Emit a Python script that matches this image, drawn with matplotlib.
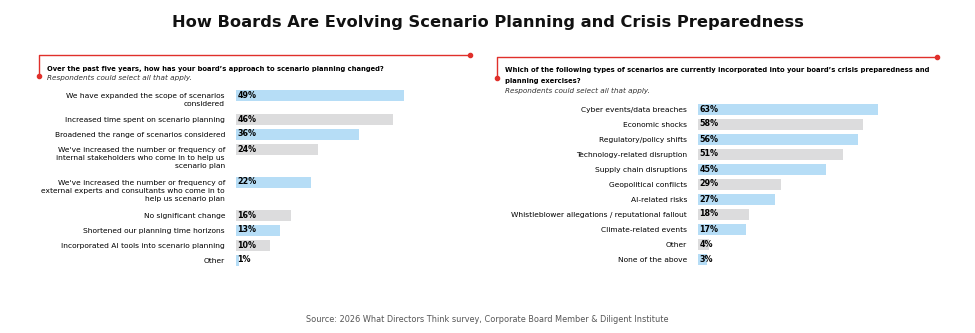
import matplotlib.pyplot as plt
from matplotlib.lines import Line2D

W, H = 975, 333

# survey results, left panel
left_labels = [
    "We have expanded the scope of scenarios\nconsidered",
    "Increased time spent on scenario planning",
    "Broadened the range of scenarios considered",
    "We've increased the number or frequency of\ninternal stakeholders who come in to help us\nscenario plan",
    "We've increased the number or frequency of\nexternal experts and consultants who come in to\nhelp us scenario plan",
    "No significant change",
    "Shortened our planning time horizons",
    "Incorporated AI tools into scenario planning",
    "Other",
]
left_values = [49, 46, 36, 24, 22, 16, 13, 10, 1]

# survey results, right panel
right_labels = [
    "Cyber events/data breaches",
    "Economic shocks",
    "Regulatory/policy shifts",
    "Technology-related disruption",
    "Supply chain disruptions",
    "Geopolitical conflicts",
    "AI-related risks",
    "Whistleblower allegations / reputational fallout",
    "Climate-related events",
    "Other",
    "None of the above",
]
right_values = [63, 58, 56, 51, 45, 29, 27, 18, 17, 4, 3]

left_question = ["Over the past five years, how has your board\u2019s approach to scenario planning changed?"]
right_question = ["Which of the following types of scenarios are currently incorporated into your board\u2019s crisis preparedness and",
                  "planning exercises?"]
note = "Respondents could select all that apply."

BLUE = "#b6ddf6"
GREY = "#dcdcdd"
RED = "#e0302b"
TEXT = "#000000"
FONT = "DejaVu Sans"

plt.rcParams["font.family"] = FONT


def fx(x):
    return x / W


def fy(y):
    return 1 - y / H


def row_positions(labels, extra=0.6):
    pos = [0.0]
    for lab in labels[:-1]:
        pos.append(pos[-1] + 1 + extra * lab.count("\n"))
    return pos


def bar_panel(fig, left, top, width, height, first_center, scale, labels, values):
    # one row = 15 px, axes laid out in pixel units
    ax = fig.add_axes([fx(left), fy(top + height), width / W, height / H])
    pos = row_positions(labels)
    colors = [BLUE if i % 2 == 0 else GREY for i in range(len(values))]
    ax.barh(pos, values, height=11 / 15, color=colors, linewidth=0)
    ax.set_xlim(0, width / scale)
    ax.set_ylim((top + height - first_center) / 15, (top - first_center) / 15)
    for p, lab, v in zip(pos, labels, values):
        ax.text(-11 / width, p - 0.11, lab, transform=ax.get_yaxis_transform(),
                ha="right", va="top", fontsize=5.4, color=TEXT, linespacing=1.4)
        ax.text(1.6 / scale, p, f"{v}%", ha="left", va="center",
                fontsize=5.8, fontweight="bold", color=TEXT)
    ax.axis("off")
    return ax


def bracket(fig, x0, x1, y0, y1):
    fig.add_artist(Line2D([fx(x1), fx(x0), fx(x0)], [fy(y0), fy(y0), fy(y1)],
                          color=RED, linewidth=1.0, transform=fig.transFigure))
    fig.add_artist(Line2D([fx(x1), fx(x0)], [fy(y0), fy(y1)], linestyle="none",
                          marker="o", markersize=3, color=RED, transform=fig.transFigure))


def question(fig, x, y, lines, step=11):
    for i, line in enumerate(lines):
        fig.text(fx(x), fy(y + i * step), line, ha="left", va="center",
                 fontsize=4.9, fontweight="bold", color=TEXT)
    fig.text(fx(x), fy(y + len(lines) * step - 1.5), note, ha="left", va="center",
             fontsize=5.2, style="italic", color="#333333")


fig = plt.figure(figsize=(W / 100, H / 100), dpi=100)

fig.text(0.5, fy(22), "How Boards Are Evolving Scenario Planning and Crisis Preparedness",
         ha="center", va="center", fontsize=11.7, fontweight="bold", color="#111111")

# left panel
bracket(fig, 39, 470, 55, 76)
question(fig, 47, 68.5, left_question)
bar_panel(fig, 236, 85, 200, 185, 95, 3.42, left_labels, left_values)

# right panel
bracket(fig, 497, 937, 57, 78)
question(fig, 505, 70, right_question)
bar_panel(fig, 698, 100, 200, 170, 109, 2.85, right_labels, right_values)

fig.text(0.5, fy(319), "Source: 2026 What Directors Think survey, Corporate Board Member & Diligent Institute",
         ha="center", va="center", fontsize=5.9, color="#555555")

fig.savefig("out.png", dpi=100, facecolor="white")
